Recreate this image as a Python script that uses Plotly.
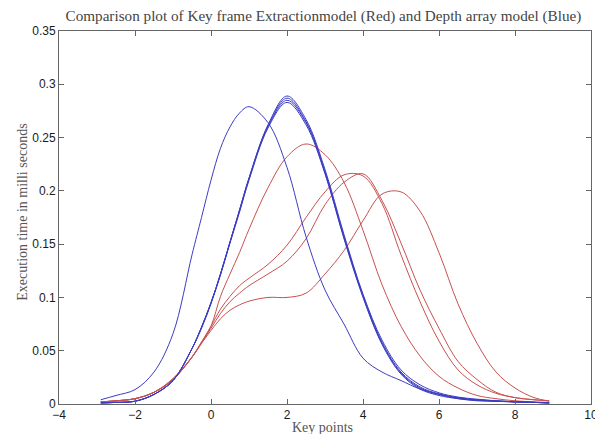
import plotly.graph_objects as go

x_points = [-2.9, -2.5, -2, -1.5, -1, -0.5, -0.25, 0, 0.25, 0.5, 0.75, 1, 1.5, 2, 2.5,
            3, 3.5, 4, 4.5, 5, 5.5, 6, 6.5, 7, 7.5, 8, 8.5, 8.9]

# Depth array model (blue)
blue_1 = [0.004, 0.008, 0.0135, 0.030, 0.066, 0.140, 0.175, 0.210, 0.240, 0.260, 0.273,
          0.279, 0.264, 0.222, 0.157, 0.107, 0.075, 0.043, 0.030, 0.022, 0.014, 0.009,
          0.005, 0.003, 0.0025, 0.002, 0.0015, 0.0012]
blue_2 = [0.001, 0.0015, 0.0026, 0.009, 0.022, 0.052, 0.072, 0.095, 0.122, 0.152, 0.182,
          0.212, 0.262, 0.289, 0.267, 0.220, 0.159, 0.103, 0.060, 0.032, 0.018, 0.0105,
          0.0065, 0.0045, 0.003, 0.002, 0.0015, 0.001]
blue_3 = [0.001, 0.0015, 0.0026, 0.009, 0.022, 0.052, 0.072, 0.095, 0.122, 0.152, 0.182,
          0.212, 0.261, 0.287, 0.265, 0.218, 0.157, 0.102, 0.058, 0.030, 0.016, 0.0095,
          0.006, 0.004, 0.003, 0.002, 0.0015, 0.001]
blue_4 = [0.001, 0.0015, 0.0026, 0.009, 0.022, 0.052, 0.072, 0.095, 0.122, 0.152, 0.181,
          0.211, 0.260, 0.285, 0.264, 0.217, 0.156, 0.101, 0.057, 0.029, 0.015, 0.009,
          0.0055, 0.0038, 0.0028, 0.002, 0.0015, 0.001]
blue_5 = [0.001, 0.0015, 0.0026, 0.009, 0.022, 0.052, 0.071, 0.094, 0.121, 0.151, 0.180,
          0.210, 0.259, 0.283, 0.262, 0.216, 0.155, 0.100, 0.056, 0.028, 0.014, 0.008,
          0.005, 0.0035, 0.0025, 0.002, 0.0015, 0.001]

# Key frame extraction model (red)
red_a = [0.002, 0.003, 0.005, 0.011, 0.024, 0.044, 0.057, 0.073, 0.101, 0.122, 0.142,
         0.164, 0.203, 0.232, 0.244, 0.234, 0.208, 0.163, 0.112, 0.073, 0.045, 0.026,
         0.015, 0.008, 0.005, 0.003, 0.002, 0.0015]
red_b = [0.002, 0.003, 0.005, 0.011, 0.023, 0.044, 0.058, 0.073, 0.089, 0.101, 0.111,
         0.118, 0.131, 0.149, 0.175, 0.199, 0.215, 0.214, 0.188, 0.140, 0.096, 0.059,
         0.032, 0.018, 0.010, 0.006, 0.004, 0.003]
red_c = [0.002, 0.003, 0.005, 0.011, 0.023, 0.044, 0.058, 0.071, 0.085, 0.096, 0.104,
         0.111, 0.122, 0.134, 0.155, 0.187, 0.208, 0.216, 0.191, 0.151, 0.107, 0.071,
         0.040, 0.023, 0.011, 0.006, 0.004, 0.003]
red_d = [0.002, 0.003, 0.005, 0.011, 0.023, 0.044, 0.057, 0.069, 0.080, 0.088, 0.093,
         0.0965, 0.100, 0.100, 0.104, 0.122, 0.144, 0.172, 0.197, 0.199, 0.181, 0.142,
         0.094, 0.057, 0.030, 0.015, 0.006, 0.0027]

blue_series = [blue_1, blue_2, blue_3, blue_4, blue_5]
red_series = [red_a, red_b, red_c, red_d]

x_ticks = [-4, -2, 0, 2, 4, 6, 8, 10]
y_ticks = [0, 0.05, 0.1, 0.15, 0.2, 0.25, 0.3, 0.35]
y_tick_labels = ["0", "0.05", "0.1", "0.15", "0.2", "0.25", "0.3", "0.35"]

title_text = "Comparison plot of Key frame Extractionmodel (Red) and Depth array model (Blue)"
x_title = "Key points"
y_title = "Execution time in milli seconds"

serif = "Liberation Serif, Times New Roman, serif"
sans = "Liberation Sans, Arial, sans-serif"

fig = go.Figure()
for ys in red_series:
    fig.add_trace(go.Scatter(x=x_points, y=ys, mode="lines",
                             line=dict(color="rgb(200,80,80)", width=1, shape="spline"),
                             showlegend=False, hoverinfo="skip"))
for ys in blue_series:
    fig.add_trace(go.Scatter(x=x_points, y=ys, mode="lines",
                             line=dict(color="rgb(60,60,195)", width=1, shape="spline"),
                             showlegend=False, hoverinfo="skip"))

axis_common = dict(showgrid=False, zeroline=False, showline=True, linecolor="#666",
                   linewidth=1, mirror="ticks", ticks="inside", ticklen=5,
                   tickcolor="#666", automargin=False,
                   tickfont=dict(family=sans, size=12, color="#1a1a1a"))

# page body has an 8px margin, so the figure is sized to fit inside the window
fig.update_layout(
    width=595, height=426,
    margin=dict(l=51, r=12, t=23, b=30, autoexpand=False),
    paper_bgcolor="white", plot_bgcolor="white",
    title=dict(text=title_text, font=dict(family=serif, size=15.2, color="#444"),
               xref="paper", x=0.497, xanchor="center",
               yref="container", y=0.981, yanchor="middle"),
    annotations=[
        dict(text=x_title, xref="paper", yref="paper", x=0.496, y=-0.063,
             xanchor="center", yanchor="middle", showarrow=False,
             font=dict(family=serif, size=14, color="#555")),
        dict(text=y_title, xref="paper", yref="paper", x=-0.068, y=0.515,
             xanchor="center", yanchor="middle", showarrow=False, textangle=-90,
             font=dict(family=serif, size=14, color="#555")),
    ],
)
fig.update_xaxes(range=[-4, 10], tickvals=x_ticks, **axis_common)
fig.update_yaxes(range=[0, 0.35], tickvals=y_ticks, ticktext=y_tick_labels, **axis_common)

fig.write_html("out.html")
